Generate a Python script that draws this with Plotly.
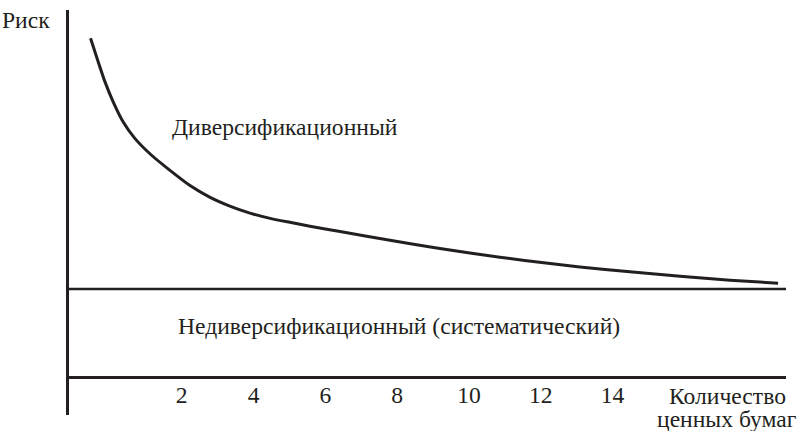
import plotly.graph_objects as go

# Number of securities (schematic positions) and total risk curve
n_securities = [-0.54, -0.33, -0.14, 0.09, 0.37, 0.70, 1.16, 1.62, 2.23, 2.79, 3.34, 3.90, 4.46, 5.01, 5.57, 6.41, 7.80, 9.19, 10.86, 12.26, 13.09, 14.48, 15.88, 17.27, 18.61]
total_risk = [77.2, 71.9, 67.3, 62.7, 58.1, 54.3, 50.5, 47.4, 43.6, 40.9, 38.9, 37.3, 36.1, 35.2, 34.3, 33.1, 31.1, 29.2, 27.2, 25.8, 25.0, 23.9, 22.9, 22.0, 21.3]
systematic_risk = 20
tick_values = [2, 4, 6, 8, 10, 12, 14]
tick_labels = ["2", "4", "6", "8", "10", "12", "14"]

x_range = [-1.14, 18.83]
y_range = [-8.78, 83.65]

FONT = "Times New Roman, Liberation Serif, serif"
INK = "#231f20"
FS = 23.6

fig = go.Figure()
fig.add_trace(go.Scatter(
    x=n_securities, y=total_risk, mode="lines",
    line=dict(color=INK, width=3, shape="spline", smoothing=0.5),
    hoverinfo="skip", showlegend=False,
))
fig.add_hline(y=systematic_risk, line=dict(color=INK, width=2.5))

fig.add_annotation(x=4.87, y=(376.7 - 128) / 4.36, text="Диверсификационный",
                   showarrow=False, xanchor="center", yanchor="middle",
                   font=dict(family=FONT, size=FS, color=INK))
fig.add_annotation(x=8.06, y=(376.7 - 326) / 4.36, text="Недиверсификационный (систематический)",
                   showarrow=False, xanchor="center", yanchor="middle",
                   font=dict(family=FONT, size=FS, color=INK))
fig.add_annotation(x=0, y=1, xref="paper", yref="paper", text="Риск",
                   showarrow=False, xanchor="right", yanchor="middle", xshift=-17, yshift=-10,
                   font=dict(family=FONT, size=FS, color=INK))
fig.add_annotation(x=17.2, y=0, text="Количество",
                   showarrow=False, xanchor="center", yanchor="middle", yshift=-19,
                   font=dict(family=FONT, size=FS, color=INK))
fig.add_annotation(x=17.2, y=0, text="ценных бумаг",
                   showarrow=False, xanchor="center", yanchor="middle", yshift=-42,
                   font=dict(family=FONT, size=FS, color=INK))

pos = (0 - y_range[0]) / (y_range[1] - y_range[0])
fig.update_layout(
    width=802, height=431,
    margin=dict(l=69, r=16, t=10, b=16, autoexpand=False),
    paper_bgcolor="white", plot_bgcolor="white",
    xaxis=dict(range=x_range, tickvals=tick_values, ticktext=tick_labels,
               showgrid=False, zeroline=False, showline=True, linecolor=INK, linewidth=2.5,
               anchor="free", position=pos, ticks="", automargin=False, ticklabelstandoff=-4,
               tickfont=dict(family=FONT, size=FS, color=INK)),
    yaxis=dict(range=y_range, showgrid=False, zeroline=False, showticklabels=False,
               showline=True, linecolor=INK, linewidth=3, ticks="", automargin=False),
)

fig.write_html("out.html", config={"displayModeBar": False},
               post_script="document.body.style.margin='0';")
